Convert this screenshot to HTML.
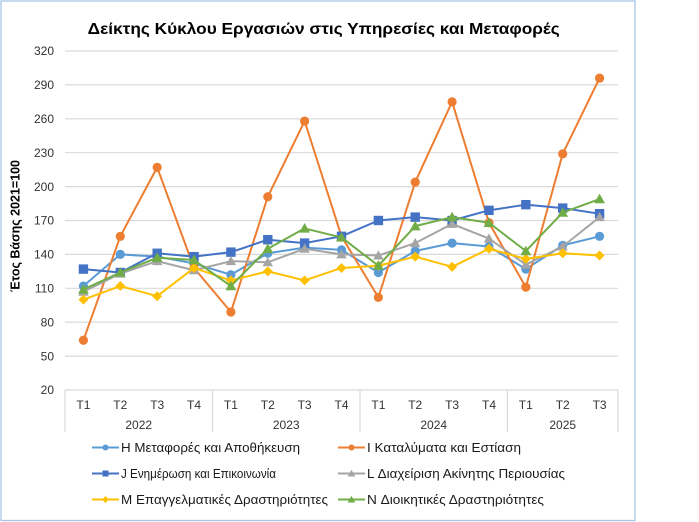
<!DOCTYPE html>
<html><head><meta charset="utf-8"><style>
html,body{margin:0;padding:0;background:#fff;width:699px;height:522px;overflow:hidden}
svg{display:block}
text{font-family:"Liberation Sans","DejaVu Sans",sans-serif}
</style></head><body>
<svg width="699" height="522" viewBox="0 0 699 522" xmlns="http://www.w3.org/2000/svg">
<defs>
<marker id="mH" markerUnits="userSpaceOnUse" markerWidth="12" markerHeight="12" refX="6" refY="6" overflow="visible"><circle cx="6" cy="6" r="4.6" fill="#5B9BD5"/></marker>
<marker id="mI" markerUnits="userSpaceOnUse" markerWidth="12" markerHeight="12" refX="6" refY="6" overflow="visible"><circle cx="6" cy="6" r="4.6" fill="#ED7D31"/></marker>
<marker id="mJ" markerUnits="userSpaceOnUse" markerWidth="12" markerHeight="12" refX="6" refY="6" overflow="visible"><rect x="1.3" y="1.3" width="9.4" height="9.4" fill="#4472C4"/></marker>
<marker id="mL" markerUnits="userSpaceOnUse" markerWidth="12" markerHeight="12" refX="6" refY="6" overflow="visible"><polygon points="6,0.8 11.2,10 0.8,10" fill="#A5A5A5"/></marker>
<marker id="mM" markerUnits="userSpaceOnUse" markerWidth="12" markerHeight="12" refX="6" refY="6" overflow="visible"><polygon points="6,1 11,6 6,11 1,6" fill="#FFC000"/></marker>
<marker id="mN" markerUnits="userSpaceOnUse" markerWidth="12" markerHeight="12" refX="6" refY="6" overflow="visible"><polygon points="6,0.6 11.4,10.2 0.6,10.2" fill="#70AD47"/></marker>
</defs>
<rect x="1" y="1" width="634" height="519.5" fill="#fff" stroke="#A9C6E8" stroke-width="1.3"/>
<text x="323.7" y="34" font-size="16" font-weight="bold" text-anchor="middle" textLength="472" lengthAdjust="spacingAndGlyphs" fill="#000">Δείκτης Κύκλου Εργασιών στις Υπηρεσίες και Μεταφορές</text>
<g stroke="#D9D9D9" stroke-width="1.2">
<line x1="65" y1="51" x2="618" y2="51"/>
<line x1="65" y1="84.9" x2="618" y2="84.9"/>
<line x1="65" y1="118.8" x2="618" y2="118.8"/>
<line x1="65" y1="152.7" x2="618" y2="152.7"/>
<line x1="65" y1="186.6" x2="618" y2="186.6"/>
<line x1="65" y1="220.5" x2="618" y2="220.5"/>
<line x1="65" y1="254.4" x2="618" y2="254.4"/>
<line x1="65" y1="288.3" x2="618" y2="288.3"/>
<line x1="65" y1="322.2" x2="618" y2="322.2"/>
<line x1="65" y1="356.1" x2="618" y2="356.1"/>
<line x1="65" y1="390" x2="618" y2="390"/>
<line x1="65" y1="390" x2="65" y2="432"/>
<line x1="212.5" y1="390" x2="212.5" y2="432"/>
<line x1="360" y1="390" x2="360" y2="432"/>
<line x1="507.4" y1="390" x2="507.4" y2="432"/>
<line x1="618" y1="390" x2="618" y2="432"/>
</g>
<g font-size="12" fill="#333" text-anchor="end">
<text x="54" y="55.2">320</text>
<text x="54" y="89.1">290</text>
<text x="54" y="123">260</text>
<text x="54" y="156.9">230</text>
<text x="54" y="190.8">200</text>
<text x="54" y="224.7">170</text>
<text x="54" y="258.6">140</text>
<text x="54" y="292.5">110</text>
<text x="54" y="326.4">80</text>
<text x="54" y="360.3">50</text>
<text x="54" y="394.2">20</text>
</g>
<text transform="translate(19.5,226) rotate(-90)" font-size="12.5" font-weight="bold" text-anchor="middle" textLength="132" lengthAdjust="spacingAndGlyphs" fill="#000">Έτος Βάσης 2021=100</text>
<g font-size="12" fill="#333" text-anchor="middle">
<text x="83.4" y="409">T1</text><text x="120.3" y="409">T2</text><text x="157.2" y="409">T3</text><text x="194" y="409">T4</text>
<text x="230.9" y="409">T1</text><text x="267.8" y="409">T2</text><text x="304.6" y="409">T3</text><text x="341.5" y="409">T4</text>
<text x="378.4" y="409">T1</text><text x="415.2" y="409">T2</text><text x="452.1" y="409">T3</text><text x="489" y="409">T4</text>
<text x="525.8" y="409">T1</text><text x="562.7" y="409">T2</text><text x="599.6" y="409">T3</text>
<text x="138.7" y="429">2022</text><text x="286.2" y="429">2023</text><text x="433.7" y="429">2024</text><text x="562.7" y="429">2025</text>
</g>
<g fill="none" stroke-width="2" stroke-linejoin="round">
<polyline stroke="#5B9BD5" marker-start="url(#mH)" marker-mid="url(#mH)" marker-end="url(#mH)" points="83.43,286.04 120.3,254.4 157.17,256.66 194.03,263.44 230.9,274.74 267.77,253.27 304.63,247.62 341.5,249.88 378.37,272.48 415.23,251.01 452.1,243.1 488.97,246.49 525.83,269.09 562.7,245.36 599.57,236.32"/>
<polyline stroke="#ED7D31" marker-start="url(#mI)" marker-mid="url(#mI)" marker-end="url(#mI)" points="83.43,340.28 120.3,236.32 157.17,167.39 194.03,267.96 230.9,312.03 267.77,196.77 304.63,121.06 341.5,236.32 378.37,297.34 415.23,182.08 452.1,101.85 488.97,222.76 525.83,287.17 562.7,153.83 599.57,78.12"/>
<polyline stroke="#4472C4" marker-start="url(#mJ)" marker-mid="url(#mJ)" marker-end="url(#mJ)" points="83.43,269.09 120.3,272.48 157.17,253.27 194.03,256.66 230.9,252.14 267.77,239.71 304.63,243.1 341.5,236.32 378.37,220.5 415.23,217.11 452.1,220.5 488.97,210.33 525.83,204.68 562.7,208.07 599.57,213.72"/>
<polyline stroke="#A5A5A5" marker-start="url(#mL)" marker-mid="url(#mL)" marker-end="url(#mL)" points="83.43,291.69 120.3,273.61 157.17,261.18 194.03,270.22 230.9,261.18 267.77,262.31 304.63,248.75 341.5,254.4 378.37,255.53 415.23,243.1 452.1,223.89 488.97,238.58 525.83,264.57 562.7,246.49 599.57,217.11"/>
<polyline stroke="#FFC000" marker-start="url(#mM)" marker-mid="url(#mM)" marker-end="url(#mM)" points="83.43,299.6 120.3,286.04 157.17,296.21 194.03,267.96 230.9,280.39 267.77,271.35 304.63,280.39 341.5,267.96 378.37,265.7 415.23,256.66 452.1,266.83 488.97,248.75 525.83,258.92 562.7,253.27 599.57,255.53"/>
<polyline stroke="#70AD47" marker-start="url(#mN)" marker-mid="url(#mN)" marker-end="url(#mN)" points="83.43,289.43 120.3,272.48 157.17,257.79 194.03,260.05 230.9,286.04 267.77,248.75 304.63,228.41 341.5,237.45 378.37,265.7 415.23,226.15 452.1,217.11 488.97,222.76 525.83,251.01 562.7,212.59 599.57,199.03"/>
</g>
<g stroke-width="2">
<line x1="92" y1="447.5" x2="119" y2="447.5" stroke="#5B9BD5"/><circle cx="105.5" cy="447.5" r="3" fill="#5B9BD5"/>
<line x1="92" y1="473.5" x2="119" y2="473.5" stroke="#4472C4"/><rect x="102.5" y="470.5" width="6" height="6" fill="#4472C4" stroke="none"/>
<line x1="92" y1="499.5" x2="119" y2="499.5" stroke="#FFC000"/><polygon points="105.5,496 109,499.5 105.5,503 102,499.5" fill="#FFC000" stroke="none"/>
<line x1="338" y1="447.5" x2="365" y2="447.5" stroke="#ED7D31"/><circle cx="351.5" cy="447.5" r="3" fill="#ED7D31"/>
<line x1="338" y1="473.5" x2="365" y2="473.5" stroke="#A5A5A5"/><polygon points="351.5,469.8 355.3,476.5 347.7,476.5" fill="#A5A5A5" stroke="none"/>
<line x1="338" y1="499.5" x2="365" y2="499.5" stroke="#70AD47"/><polygon points="351.5,495.8 355.3,502.5 347.7,502.5" fill="#70AD47" stroke="none"/>
</g>
<g font-size="12.5" fill="#1a1a1a">
<text x="121" y="452" textLength="179" lengthAdjust="spacingAndGlyphs">Η Μεταφορές και Αποθήκευση</text>
<text x="121" y="478" textLength="155" lengthAdjust="spacingAndGlyphs">J Ενημέρωση και Επικοινωνία</text>
<text x="121" y="504" textLength="207" lengthAdjust="spacingAndGlyphs">M Επαγγελματικές Δραστηριότητες</text>
<text x="367" y="452" textLength="154" lengthAdjust="spacingAndGlyphs">I Καταλύματα και Εστίαση</text>
<text x="367" y="478" textLength="198" lengthAdjust="spacingAndGlyphs">L Διαχείριση Ακίνητης Περιουσίας</text>
<text x="367" y="504" textLength="177" lengthAdjust="spacingAndGlyphs">N Διοικητικές Δραστηριότητες</text>
</g>
</svg>
</body></html>
